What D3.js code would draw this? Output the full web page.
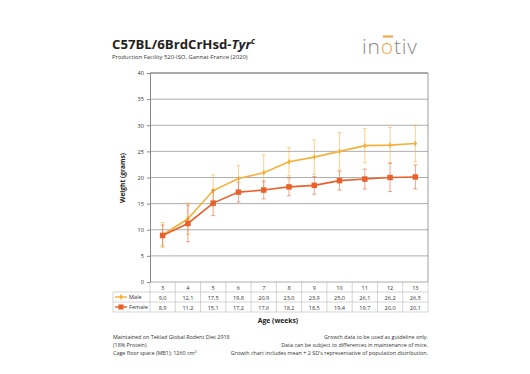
<!DOCTYPE html>
<html><head><meta charset="utf-8">
<script src="https://cdn.jsdelivr.net/npm/d3@7/dist/d3.min.js"></script>
<style>body{margin:0;background:#fff}svg{display:block;font-family:"Open Sans","Liberation Sans",sans-serif}</style>
</head><body><svg id="c" width="530" height="374"></svg>
<script>
const weeks = [3,4,5,6,7,8,9,10,11,12,13];
const maleMean = [9.0,12.1,17.5,19.8,20.9,23.0,23.9,25.0,26.1,26.2,26.5];
const femaleMean = [8.9,11.2,15.1,17.2,17.6,18.2,18.5,19.4,19.7,20.0,20.1];
const maleErr = [2.4,3.0,3.0,2.5,3.4,2.7,3.3,3.6,3.3,3.4,3.5];
const femaleErr = [2.0,3.5,2.4,1.9,1.7,1.7,1.7,1.8,1.9,2.7,2.3];
const yTicks = [0,5,10,15,20,25,30,35,40];
const maleColor = "#F6B03A", femaleColor = "#E8612C";

const svg = d3.select("#c");
const L=150,R=428,T=73,B=282;
const x = d3.scaleBand().domain(weeks).range([L,R]);
const y = d3.scaleLinear().domain([0,40]).range([B,T]);

// title
const t = svg.append("text").attr("x",112).attr("y",49).attr("font-size",13.2).attr("font-weight","bold").attr("fill","#222");
t.append("tspan").text("C57BL/6BrdCrHsd-");
t.append("tspan").attr("font-style","italic").text("Tyr");
t.append("tspan").attr("font-style","italic").attr("font-size",8).attr("dy",-5).text("c");
svg.append("text").attr("x",112).attr("y",59).attr("font-size",5.9).attr("fill","#333").text("Production Facility 520-ISO, Gannat-France (2020)");

// logo
const lg = svg.append("text").attr("x",362).attr("y",54).attr("font-size",21).attr("font-weight",300).attr("fill","#8a8a8a").attr("letter-spacing",0.8);
lg.append("tspan").text("in");
lg.append("tspan").attr("fill","#F2A43A").text("o");
lg.append("tspan").text("tiv");
svg.append("rect").attr("x",383).attr("y",35.5).attr("width",10).attr("height",2).attr("fill","#F2A43A");

// gridlines
svg.append("g").selectAll("line").data(yTicks).join("line")
  .attr("x1",L).attr("x2",R).attr("y1",d=>y(d)).attr("y2",d=>y(d))
  .attr("stroke",d=>d===40?"#555":"#999").attr("stroke-width",d=>d===40?1:0.8);
svg.append("line").attr("x1",R).attr("x2",R).attr("y1",T).attr("y2",B).attr("stroke","#888").attr("stroke-width",0.8);

// y axis
const ya = svg.append("g").attr("transform",`translate(${L},0)`)
  .call(d3.axisLeft(y).tickValues(yTicks).tickSize(3).tickPadding(3));
ya.select(".domain").attr("stroke","#888");
ya.selectAll(".tick line").attr("stroke","#888");
ya.selectAll("text").attr("font-size",5.6).attr("fill","#333").attr("font-family","Open Sans, sans-serif");

svg.append("text").attr("transform","translate(125,178) rotate(-90)").attr("text-anchor","middle")
  .attr("font-size",6.6).attr("font-weight","bold").attr("fill","#222").text("Weight (grams)");

// series
function series(mean, err, color, shape, size){
  const g = svg.append("g");
  const cx = (d,i)=>x(weeks[i])+x.bandwidth()/2;
  mean.forEach((m,i)=>{
    const xx = x(weeks[i])+x.bandwidth()/2;
    g.append("line").attr("x1",xx).attr("x2",xx).attr("y1",y(m-err[i])).attr("y2",y(m+err[i])).attr("stroke",color).attr("stroke-width",0.8).attr("opacity",0.7);
    [m-err[i],m+err[i]].forEach(v=>g.append("line").attr("x1",xx-2).attr("x2",xx+2).attr("y1",y(v)).attr("y2",y(v)).attr("stroke",color).attr("stroke-width",0.8).attr("opacity",0.7));
  });
  g.append("path").datum(mean).attr("fill","none").attr("stroke",color).attr("stroke-width",1.6)
    .attr("d",d3.line().x(cx).y(d=>y(d)));
  g.selectAll("path.m").data(mean).join("path").attr("class","m")
    .attr("transform",(d,i)=>`translate(${cx(d,i)},${y(d)})`)
    .attr("d",d3.symbol().type(shape).size(size)).attr("fill",color);
}
series(maleMean,maleErr,maleColor,d3.symbolDiamond,10);
series(femaleMean,femaleErr,femaleColor,d3.symbolSquare,30);

// data table
const tg = svg.append("g").attr("stroke","#b8b8b8").attr("stroke-width",0.6);
weeks.forEach(w=>{ tg.append("line").attr("x1",x(w)).attr("x2",x(w)).attr("y1",B).attr("y2",B+30); });
tg.append("line").attr("x1",R).attr("x2",R).attr("y1",B).attr("y2",B+30);
tg.append("line").attr("x1",113).attr("x2",113).attr("y1",B+10).attr("y2",B+30);
[B+10,B+20,B+30].forEach(yy=>tg.append("line").attr("x1",113).attr("x2",R).attr("y1",yy).attr("y2",yy));

const fmt = v=>v.toFixed(1).replace(".",",");
const tt = svg.append("g").attr("font-size",5.6).attr("fill","#333").attr("text-anchor","middle");
weeks.forEach((w,i)=>{
  const xx = x(w)+x.bandwidth()/2;
  tt.append("text").attr("x",xx).attr("y",B+7.5).text(w);
  tt.append("text").attr("x",xx).attr("y",B+17.5).text(fmt(maleMean[i]));
  tt.append("text").attr("x",xx).attr("y",B+27.5).text(fmt(femaleMean[i]));
});
[[maleColor,"Male",B+15,d3.symbolDiamond,10],[femaleColor,"Female",B+25,d3.symbolSquare,26]].forEach(([c,lab,yy,sh,sz])=>{
  svg.append("line").attr("x1",115).attr("x2",127).attr("y1",yy).attr("y2",yy).attr("stroke",c).attr("stroke-width",1.4);
  svg.append("path").attr("transform",`translate(121,${yy})`).attr("d",d3.symbol().type(sh).size(sz)).attr("fill",c);
  svg.append("text").attr("x",129).attr("y",yy+2).attr("font-size",5.6).attr("fill","#333").text(lab);
});

svg.append("text").attr("x",278).attr("y",323).attr("text-anchor","middle").attr("font-size",6.8).attr("font-weight","bold").attr("fill","#222").text("Age (weeks)");

// footer
const fl = ["Maintained on Teklad Global Rodent Diet 2918","(18% Protein)"];
fl.forEach((s,i)=>svg.append("text").attr("x",113).attr("y",339+i*8).attr("font-size",5.4).attr("fill","#333").text(s));
const cage = svg.append("text").attr("x",113).attr("y",355).attr("font-size",5.4).attr("fill","#333");
cage.append("tspan").text("Cage floor space (MB1): 1260 cm");
cage.append("tspan").attr("font-size",3.6).attr("dy",-2).text("2");
const fr = ["Growth data to be used as guideline only.","Data can be subject to differences in maintenance of mice.","Growth chart includes mean + 2 SD's representative of population distribution."];
fr.forEach((s,i)=>svg.append("text").attr("x",428).attr("y",339+i*8).attr("text-anchor","end").attr("font-size",5.4).attr("fill","#333").text(s));
</script></body></html>
